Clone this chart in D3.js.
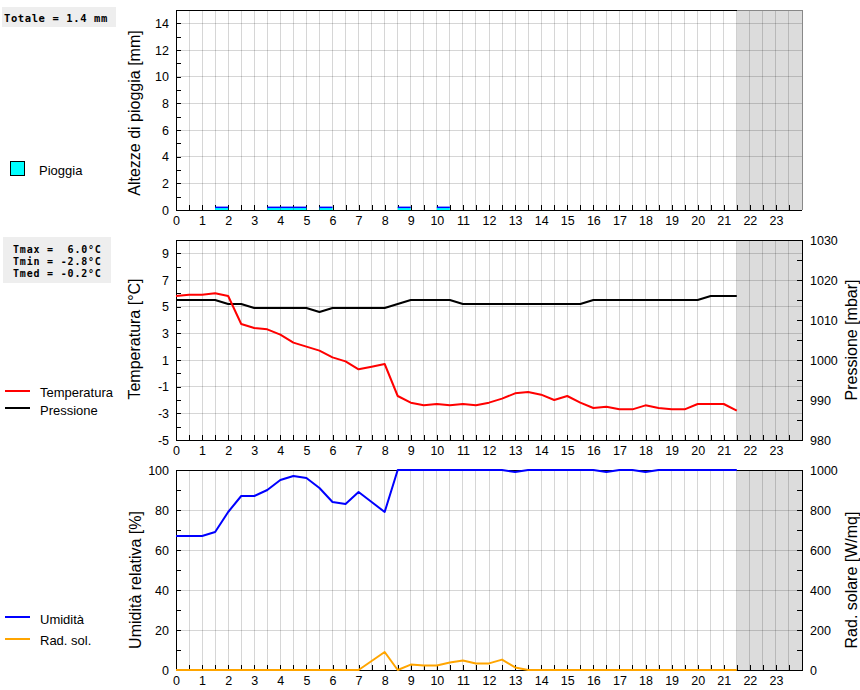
<!DOCTYPE html>
<html><head><meta charset="utf-8">
<script src="https://cdn.jsdelivr.net/npm/d3@7"></script>
<style>
body{margin:0;background:#fff}
text{font-family:"Liberation Sans",Arial,sans-serif;fill:#000}
.mono{font-family:"DejaVu Sans Mono",monospace;font-weight:bold;white-space:pre}
</style>
</head><body>
<svg id="c" width="860" height="690"></svg>
<script>
// ---- data (half-hourly, 0:00 .. 21:30) ----
const times = [0,0.5,1,1.5,2,2.5,3,3.5,4,4.5,5,5.5,6,6.5,7,7.5,8,8.5,9,9.5,10,10.5,
  11,11.5,12,12.5,13,13.5,14,14.5,15,15.5,16,16.5,17,17.5,18,18.5,19,19.5,20,20.5,21,21.5];
const temperature = [5.8,5.9,5.9,6.0,5.8,3.7,3.4,3.3,2.9,2.3,2.0,1.7,1.2,0.9,0.3,0.5,0.7,-1.7,
  -2.2,-2.4,-2.3,-2.4,-2.3,-2.4,-2.2,-1.9,-1.5,-1.4,-1.6,-2.0,-1.7,-2.2,-2.6,-2.5,-2.7,-2.7,
  -2.4,-2.6,-2.7,-2.7,-2.3,-2.3,-2.3,-2.8];
const pressure = [1015,1015,1015,1015,1014,1014,1013,1013,1013,1013,1013,1012,1013,1013,1013,
  1013,1013,1014,1015,1015,1015,1015,1014,1014,1014,1014,1014,1014,1014,1014,1014,1014,
  1015,1015,1015,1015,1015,1015,1015,1015,1015,1016,1016,1016];
const humidity = [67,67,67,69,79,87,87,90,95,97,96,91,84,83,89,84,79,100,100,100,100,100,
  100,100,100,100,99,100,100,100,100,100,100,99,100,100,99,100,100,100,100,100,100,100];
const radiation = [0,0,0,0,0,0,0,0,0,0,0,0,0,0,0,45,90,0,27,23,23,37,47,33,33,52,13,0,
  0,0,0,0,0,0,0,0,0,0,0,0,0,0,0,0];
const rainStart = [1.5,3.5,4.0,4.5,5.5,8.5,10.0];
const rainMm = [0.2,0.2,0.2,0.2,0.2,0.2,0.2];
const lastTime = 21.5;

// ---- tick labels ----
const hourLabels = [0,1,2,3,4,5,6,7,8,9,10,11,12,13,14,15,16,17,18,19,20,21,22,23];
const halfHourTicks = [0,0.5,1,1.5,2,2.5,3,3.5,4,4.5,5,5.5,6,6.5,7,7.5,8,8.5,9,9.5,10,10.5,11,11.5,
  12,12.5,13,13.5,14,14.5,15,15.5,16,16.5,17,17.5,18,18.5,19,19.5,20,20.5,21,21.5,22,22.5,23,23.5];
const rainTicks = [0,1,2,3,4,5,6,7,8,9,10,11,12,13,14,15];
const rainLabels = [0,2,4,6,8,10,12,14];
const tempTicks = [-5,-4,-3,-2,-1,0,1,2,3,4,5,6,7,8,9,10];
const tempLabels = [-5,-3,-1,1,3,5,7,9];
const presTicks = [980,985,990,995,1000,1005,1010,1015,1020,1025,1030];
const presLabels = [980,990,1000,1010,1020,1030];
const humTicks = [0,10,20,30,40,50,60,70,80,90,100];
const humLabels = [0,20,40,60,80,100];
const radTicks = [0,100,200,300,400,500,600,700,800,900,1000];
const radLabels = [0,200,400,600,800,1000];

const svg = d3.select("#c");
const X0 = 176, X1 = 802;
const x = d3.scaleLinear().domain([0,24]).range([X0,X1]);

const P = [{top:10,bottom:210},{top:240,bottom:440},{top:470,bottom:670}];
const yRain = d3.scaleLinear().domain([0,15]).range([P[0].bottom,P[0].top]);
const yTemp = d3.scaleLinear().domain([-5,10]).range([P[1].bottom,P[1].top]);
const yPres = d3.scaleLinear().domain([980,1030]).range([P[1].bottom,P[1].top]);
const yHum = d3.scaleLinear().domain([0,100]).range([P[2].bottom,P[2].top]);
const yRad = d3.scaleLinear().domain([0,1000]).range([P[2].bottom,P[2].top]);

const GRID = "rgba(0,0,0,0.16)";

function background(p, yScale, gridVals){
  const g = svg.append("g");
  g.append("rect").attr("x",x(lastTime)).attr("y",p.top)
    .attr("width",x(24)-x(lastTime)).attr("height",p.bottom-p.top).attr("fill","#dcdcdc");
  g.selectAll("line.v").data(halfHourTicks.filter(d=>d>0)).join("line")
    .attr("x1",d=>x(d)).attr("x2",d=>x(d)).attr("y1",p.top).attr("y2",p.bottom)
    .attr("stroke",GRID).attr("stroke-width",1).attr("shape-rendering","crispEdges");
  g.selectAll("line.h").data(gridVals).join("line")
    .attr("x1",X0).attr("x2",X1).attr("y1",d=>yScale(d)).attr("y2",d=>yScale(d))
    .attr("stroke",GRID).attr("stroke-width",1).attr("shape-rendering","crispEdges");
}

function axes(p, yL, lTicks, lLabels, yR, rTicks, rLabels){
  const fmtX = d => hourLabels.includes(d) ? d : "";
  const gx = svg.append("g").attr("transform",`translate(0,${p.bottom})`)
    .call(d3.axisBottom(x).tickValues(halfHourTicks).tickFormat(fmtX).tickSize(-5).tickPadding(6));
  const gl = svg.append("g").attr("transform",`translate(${X0},0)`)
    .call(d3.axisLeft(yL).tickValues(lTicks).tickFormat(d=>lLabels.includes(d)?d:"").tickSize(-5).tickPadding(7));
  const all = [gx, gl];
  if (yR){
    const gr = svg.append("g").attr("transform",`translate(${X1},0)`)
      .call(d3.axisRight(yR).tickValues(rTicks).tickFormat(d=>rLabels.includes(d)?d:"").tickSize(-5).tickPadding(8));
    all.push(gr);
  }
  all.forEach(g=>{
    g.select(".domain").remove();
    g.selectAll("line").attr("stroke","#000").attr("shape-rendering","crispEdges");
    g.selectAll("text").attr("font-size",12.5).attr("font-family",'"Liberation Sans",Arial,sans-serif');
  });
}

function frame(p, full){
  const g = svg.append("g").attr("stroke-width",1).attr("shape-rendering","crispEdges").attr("fill","none");
  if (full){
    g.append("rect").attr("x",X0).attr("y",p.top).attr("width",X1-X0).attr("height",p.bottom-p.top).attr("stroke","#000");
  } else {
    g.append("path").attr("d",`M${x(lastTime)},${p.top}H${X1}V${p.bottom}`).attr("stroke","#888");
    g.append("path").attr("d",`M${x(lastTime)},${p.top}H${X0}V${p.bottom}H${X1}`).attr("stroke","#000");
  }
}

// ---- Panel 1: rain ----
background(P[0], yRain, [2,4,6,8,10,12,14]);
axes(P[0], yRain, rainTicks, rainLabels);
const rg = svg.append("g");
rg.selectAll("rect").data(rainStart).join("rect")
  .attr("x",d=>x(d)).attr("width",d=>x(d+0.5)-x(d))
  .attr("y",(d,i)=>yRain(rainMm[i])).attr("height",(d,i)=>yRain(0)-yRain(rainMm[i]))
  .attr("fill","#00ffff");
rg.selectAll("line").data(rainStart).join("line")
  .attr("x1",d=>x(d)).attr("x2",d=>x(d+0.5))
  .attr("y1",(d,i)=>yRain(rainMm[i])).attr("y2",(d,i)=>yRain(rainMm[i]))
  .attr("stroke","#0000ff").attr("stroke-width",1.5);
frame(P[0], false);

// ---- Panel 2: temperature & pressure ----
background(P[1], yTemp, [-3,-1,1,3,5,7,9]);
frame(P[1], true);
axes(P[1], yTemp, tempTicks, tempLabels, yPres, presTicks, presLabels);
function series(vals, y, color){
  svg.append("path").datum(vals)
    .attr("d", d3.line().x((d,i)=>x(times[i])).y(d=>y(d)))
    .attr("fill","none").attr("stroke",color).attr("stroke-width",2).attr("stroke-linejoin","round");
}
series(pressure, yPres, "#000000");
series(temperature, yTemp, "#ff0000");

// ---- Panel 3: humidity & radiation ----
background(P[2], yHum, [20,40,60,80]);
frame(P[2], true);
axes(P[2], yHum, humTicks, humLabels, yRad, radTicks, radLabels);
series(radiation, yRad, "#ffa500");
series(humidity, yHum, "#0000ff");

// ---- axis titles ----
function vtitle(txt, xx, yy){
  svg.append("text").attr("transform",`translate(${xx},${yy}) rotate(-90)`)
    .attr("text-anchor","middle").attr("font-size",16).text(txt);
}
vtitle("Altezze di pioggia [mm]", 140, 113);
vtitle("Temperatura [°C]", 140, 339);
vtitle("Pressione [mbar]", 857, 340);
vtitle("Umidità relativa [%]", 141, 580);
vtitle("Rad. solare [W/mq]", 857, 580);

// ---- info boxes ----
svg.append("rect").attr("x",2).attr("y",7).attr("width",114).attr("height",20).attr("fill","#eeeeee");
svg.append("text").attr("class","mono").attr("x",4).attr("y",21.5).attr("font-size",10.5)
  .attr("letter-spacing",0.6).text("Totale = 1.4 mm");
svg.append("rect").attr("x",3).attr("y",237).attr("width",108).attr("height",46).attr("fill","#eeeeee");
["Tmax =  6.0°C","Tmin = -2.8°C","Tmed = -0.2°C"].forEach((t,i)=>{
  svg.append("text").attr("class","mono").attr("x",13).attr("y",253+i*12).attr("font-size",10)
    .attr("letter-spacing",0.8).text(t);
});

// ---- legends ----
svg.append("rect").attr("x",10.5).attr("y",161.5).attr("width",14).attr("height",14)
  .attr("fill","#00ffff").attr("stroke","#000");
svg.append("text").attr("x",39).attr("y",175).attr("font-size",13).text("Pioggia");
const leg = [["Temperatura","#ff0000",391,397],["Pressione","#000000",408,414.5],
             ["Umidità","#0000ff",617,623.5],["Rad. sol.","#ffa500",639,645]];
leg.forEach(([t,c,ly,ty])=>{
  svg.append("line").attr("x1",5).attr("x2",30).attr("y1",ly).attr("y2",ly).attr("stroke",c).attr("stroke-width",2);
  svg.append("text").attr("x",40).attr("y",ty).attr("font-size",13).text(t);
});
</script>
</body></html>
